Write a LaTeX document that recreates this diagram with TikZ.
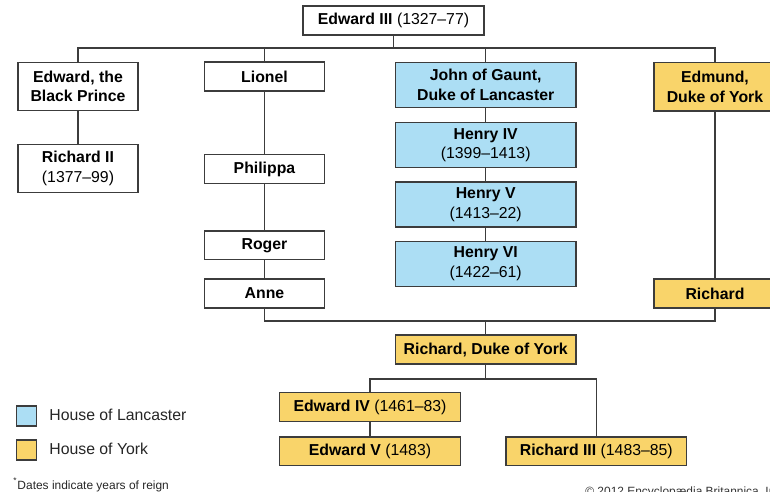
\documentclass[tikz,border=0pt]{standalone}
\usepackage{fontspec}
\setmainfont{Liberation Sans}
\definecolor{lancaster}{RGB}{172,222,244}
\definecolor{york}{RGB}{249,212,106}
\definecolor{rule}{RGB}{60,60,60}

\begin{document}
\begin{tikzpicture}[x=0.02cm,y=-0.02cm,
    box/.style={rectangle,draw=rule,line width=0.8pt,fill=white,align=center,
      inner sep=0pt,minimum height=0.58cm,font=\fontsize{9}{11.2}\selectfont},
    narrow/.style={minimum width=2.4cm},
    wide/.style={minimum width=3.62cm},
    tall/.style={minimum height=0.97cm},
    lanc/.style={fill=lancaster},
    yrk/.style={fill=york}]

      \useasboundingbox (0,0) rectangle (770,492);

      \begin{scope}[every node/.style={box}]
        \node[wide]            (e3)     at (393.5,20.5)  {\textbf{Edward III} (1327--77)};
        \node[narrow,tall]     (bp)     at (78,86.5)     {\textbf{Edward, the}\\\textbf{Black Prince}};
        \node[narrow]          (lionel) at (264.5,76.5)  {\textbf{Lionel}};
        \node[wide,lanc,minimum height=0.9cm] (jog) at (485.7,84.8) {\textbf{John of Gaunt,}\\\textbf{Duke of Lancaster}};
        \node[narrow,tall,yrk,minimum width=2.44cm] (edm) at (715,86.8) {\textbf{Edmund,}\\\textbf{Duke of York}};

        \node[narrow,tall]     (r2)     at (78,168.5)    {\textbf{Richard II}\\(1377--99)};
        \node[narrow]          (phil)   at (264.5,169)   {\textbf{Philippa}};
        \node[narrow]          (roger)  at (264.5,245.3) {\textbf{Roger}};
        \node[narrow]          (anne)   at (264.5,293.5) {\textbf{Anne}};

        \node[wide,lanc,minimum height=0.9cm] (h4) at (485.7,145.2) {\textbf{Henry IV}\\(1399--1413)};
        \node[wide,lanc,minimum height=0.9cm] (h5) at (485.7,204.5) {\textbf{Henry V}\\(1413--22)};
        \node[wide,lanc,minimum height=0.9cm] (h6) at (485.7,263.8) {\textbf{Henry VI}\\(1422--61)};
        \node[narrow,yrk,minimum width=2.44cm] (yrich) at (715,293.5) {\textbf{Richard}};

        \node[wide,yrk]        (rdy)    at (485.7,349.5) {\textbf{Richard, Duke of York}};
        \node[wide,yrk]        (e4)     at (370,407.2)   {\textbf{Edward IV} (1461--83)};
        \node[wide,yrk]        (e5)     at (370,451.3)   {\textbf{Edward V} (1483)};
        \node[wide,yrk]        (r3)     at (596.3,451.3) {\textbf{Richard III} (1483--85)};
      \end{scope}

      \coordinate (bar)   at (393.5,48);
      \coordinate (mid)   at (485.7,321);
      \coordinate (split) at (485.7,379);

      \begin{scope}[draw=rule,line width=0.8pt]
        \draw (e3.south) -- (bar);
        \draw (bp.north) |- (bar) -| (edm.north);
        \draw (lionel.north) -- (lionel.north |- bar);
        \draw (jog.north) -- (jog.north |- bar);

        \begin{scope}[every edge/.style={draw=rule,line width=0.8pt}]
          \path (bp)     edge (r2);
          \path (lionel) edge (phil);
          \path (phil)   edge (roger);
          \path (roger)  edge (anne);
          \path (jog)    edge (h4);
          \path (h4)     edge (h5);
          \path (h5)     edge (h6);
          \path (edm)    edge (yrich);
          \path (e4)     edge (e5);
        \end{scope}

        \draw (anne.south) |- (mid) -| (yrich.south);
        \draw (mid) -- (rdy.north);
        \draw (rdy.south) -- (split);
        \draw (e4.north) |- (split) -| (r3.north);
      \end{scope}

      % legend
      \begin{scope}[every node/.style={rectangle,draw=rule,line width=0.8pt,minimum size=0.4cm,inner sep=0pt}]
        \node[fill=lancaster] (kl) at (26.7,416) {};
        \node[fill=york]      (ky) at (26.7,450) {};
      \end{scope}
      \begin{scope}[every node/.style={anchor=west,inner sep=0pt,text=black!85,font=\fontsize{9}{11}\selectfont}]
        \node (tl) at (49,415) {House of Lancaster};
        \node (ty) at (49,449) {House of York};
      \end{scope}

      \node[anchor=west,inner sep=0pt,text=black!85,font=\fontsize{6.8}{8}\selectfont] (note) at (13,485)
        {\textsuperscript{*}Dates indicate years of reign};
      \node[anchor=north west,inner sep=0pt,text=black!80,font=\fontsize{6.8}{8}\selectfont] (copy) at (585,486)
        {© 2012 Encyclopædia Britannica, Inc.};

    \end{tikzpicture}
\end{document}
